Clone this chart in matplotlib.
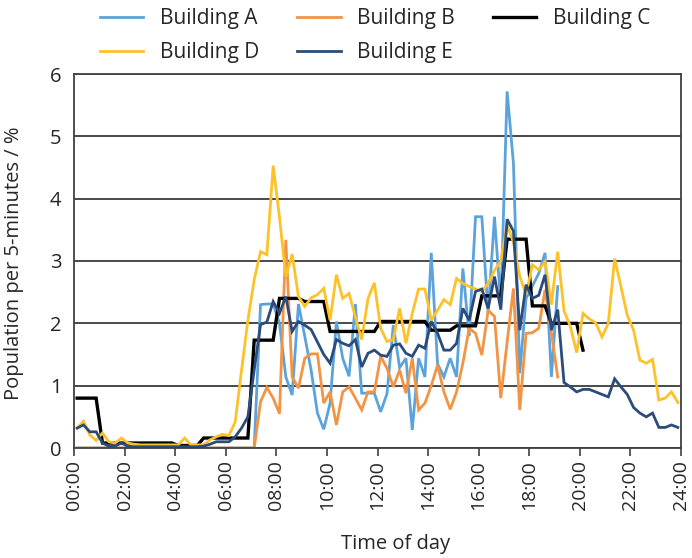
import numpy as np
import matplotlib
matplotlib.use('Agg')
from matplotlib import pyplot as plt

plt.rcParams['font.family'] = ['Open Sans', 'DejaVu Sans']

# 15-minute slots, points sit in the middle of each slot (hours)
slot_hours = (np.arange(96) + 0.5) / 4

building_a = [0, 0, 0, 0, 0, 0, 0, 0, 0, 0, 0, 0, 0, 0, 0, 0, 0, 0, 0, 0, 0, 0, 0, 0, 0, 0, 0, 0, 0,
              2.3, 2.31, 2.31, 2.0, 1.14, 0.85, 2.31, 1.79, 1.25, 0.56, 0.3, 0.72, 2.03, 1.44, 1.15, 2.31,
              0.88, 0.88, 0.88, 0.58, 0.87, 1.97, 1.29, 1.44, 0.29, 1.44, 1.14, 3.13, 1.35, 1.14, 1.44,
              1.14, 2.88, 1.8, 3.71, 3.71, 2.16, 3.71, 2.3, 5.72, 4.57, 1.2, 2.4, 2.6, 2.8, 3.13, 1.14, 2.59]
building_b = [0, 0, 0, 0, 0, 0, 0, 0, 0, 0, 0, 0, 0, 0, 0, 0, 0, 0, 0, 0, 0, 0, 0, 0, 0, 0, 0, 0, 0,
              0.74, 0.97, 0.8, 0.55, 3.34, 1.14, 0.96, 1.44, 1.51, 1.51, 0.72, 0.9, 0.37, 0.9, 0.98, 0.8,
              0.61, 0.9, 0.9, 1.47, 1.28, 0.98, 1.25, 0.88, 1.44, 0.61, 0.72, 1.0, 1.33, 0.9, 0.62, 0.9,
              1.36, 1.92, 1.84, 1.49, 2.21, 2.11, 0.8, 1.7, 2.56, 0.61, 1.84, 1.85, 1.92, 2.54, 1.85, 1.14]
building_c = [0.8, 0.8, 0.8, 0.8, 0.08, 0.08, 0.08, 0.08, 0.08, 0.08, 0.08, 0.08, 0.08, 0.08, 0.08, 0.08,
              0.04, 0.04, 0.04, 0.04, 0.16, 0.16, 0.16, 0.16, 0.16, 0.16, 0.16, 0.16,
              1.73, 1.73, 1.73, 1.73, 2.4, 2.4, 2.4, 2.4, 2.35, 2.35, 2.35, 2.35,
              1.87, 1.87, 1.87, 1.87, 1.87, 1.87, 1.87, 1.87, 2.03, 2.03, 2.03, 2.03, 2.03, 2.03, 2.03, 2.03,
              1.89, 1.89, 1.89, 1.89, 1.96, 1.96, 1.96, 1.96, 2.44, 2.44, 2.44, 2.44, 3.35, 3.35, 3.35, 3.35,
              2.28, 2.28, 2.28, 2.0, 2.0, 2.0, 2.0, 2.0, 1.57]
building_d = [0.32, 0.43, 0.21, 0.12, 0.24, 0.1, 0.08, 0.16, 0.08, 0.06, 0.05, 0.05, 0.05, 0.05, 0.05, 0.05,
              0.05, 0.16, 0.05, 0.05, 0.05, 0.13, 0.18, 0.22, 0.2, 0.42, 1.25, 2.05, 2.7, 3.15, 3.1, 4.53,
              3.7, 2.75, 3.11, 2.43, 2.27, 2.41, 2.46, 2.56, 2.05, 2.78, 2.4, 2.48, 2.1, 1.74, 2.4, 2.65,
              1.92, 1.71, 1.74, 2.24, 1.68, 2.16, 2.55, 2.55, 2.05, 2.21, 2.38, 2.3, 2.72, 2.64, 2.59, 2.55,
              2.51, 2.64, 2.85, 3.0, 3.58, 3.3, 2.75, 2.46, 2.94, 2.86, 2.99, 2.3, 3.15, 2.2, 1.95, 1.53,
              2.16, 2.07, 2.01, 1.78, 2.0, 3.04, 2.59, 2.13, 1.89, 1.41, 1.36, 1.42, 0.77, 0.8, 0.9, 0.73]
building_e = [0.32, 0.37, 0.26, 0.26, 0.08, 0.03, 0.03, 0.08, 0.03, 0.02, 0.02, 0.02, 0.02, 0.02, 0.02, 0.02,
              0.02, 0.02, 0.02, 0.02, 0.03, 0.06, 0.1, 0.1, 0.1, 0.18, 0.32, 0.5, 1.25, 1.98, 2.02, 2.35,
              2.16, 2.43, 1.87, 2.03, 1.97, 1.9, 1.7, 1.5, 1.36, 1.74, 1.68, 1.64, 1.74, 1.3, 1.52, 1.57,
              1.49, 1.47, 1.65, 1.67, 1.52, 1.47, 1.65, 1.6, 2.03, 1.84, 1.57, 1.57, 1.68, 2.24, 2.05, 2.51,
              2.55, 2.24, 2.75, 2.22, 3.67, 3.48, 1.89, 2.62, 2.4, 2.45, 2.78, 1.89, 2.22, 1.05, 0.98, 0.9,
              0.94, 0.94, 0.9, 0.86, 0.82, 1.11, 0.98, 0.86, 0.65, 0.56, 0.5, 0.56, 0.33, 0.33, 0.37, 0.33]

series = [('Building A', building_a, '#5BA3DA', 2.0),
          ('Building B', building_b, '#F39445', 2.0),
          ('Building C', building_c, '#000000', 2.4),
          ('Building D', building_d, '#FDC12A', 2.0),
          ('Building E', building_e, '#2B4C7A', 2.0)]

hour_ticks = list(range(0, 25, 2))
hour_labels = [f'{h:02d}:00' for h in hour_ticks]
text_color = '#262626'

fig = plt.figure(figsize=(6.92, 5.58), dpi=100)
ax = fig.add_axes([74 / 692, 1 - 448 / 558, 607 / 692, 374 / 558])

lines = {}
for name, vals, col, lw in series:
    lines[name], = ax.plot(slot_hours[:len(vals)], vals, color=col, lw=lw, label=name,
                           solid_joinstyle='miter')

ax.set_xlim(0, 24)
ax.set_ylim(0, 6)
ax.set_xticks(hour_ticks)
ax.set_xticklabels(hour_labels, rotation=90, fontsize=14, color=text_color)
ax.set_yticks(range(7))
ax.set_yticklabels([str(v) for v in range(7)], fontsize=14.5, color=text_color)
ax.tick_params(axis='x', length=6, width=1.2, color='#404040', pad=3)
ax.tick_params(axis='y', length=0, pad=9)
ax.grid(axis='y', color='#3a3a3a', lw=1.3)
ax.set_axisbelow(True)
for s in ax.spines.values():
    s.set_color('#404040')
    s.set_linewidth(1.3)

ax.set_xlabel('Time of day', fontsize=14.5, color=text_color)
ax.set_ylabel('Population per 5-minutes / %', fontsize=14.5, color=text_color)
ax.xaxis.set_label_coords(0.53, -0.23)
ax.yaxis.set_label_coords(-0.083, 0.495)

order = ['Building A', 'Building D', 'Building B', 'Building E', 'Building C']
fig.legend([lines[n] for n in order], order, loc='upper left', bbox_to_anchor=(0.123, 1.012),
           ncol=3, frameon=False, fontsize=15, handlelength=2.1, handletextpad=0.8,
           columnspacing=1.8, labelspacing=0.62, borderpad=0.2, labelcolor=text_color)

fig.savefig('out.png', dpi=100)
